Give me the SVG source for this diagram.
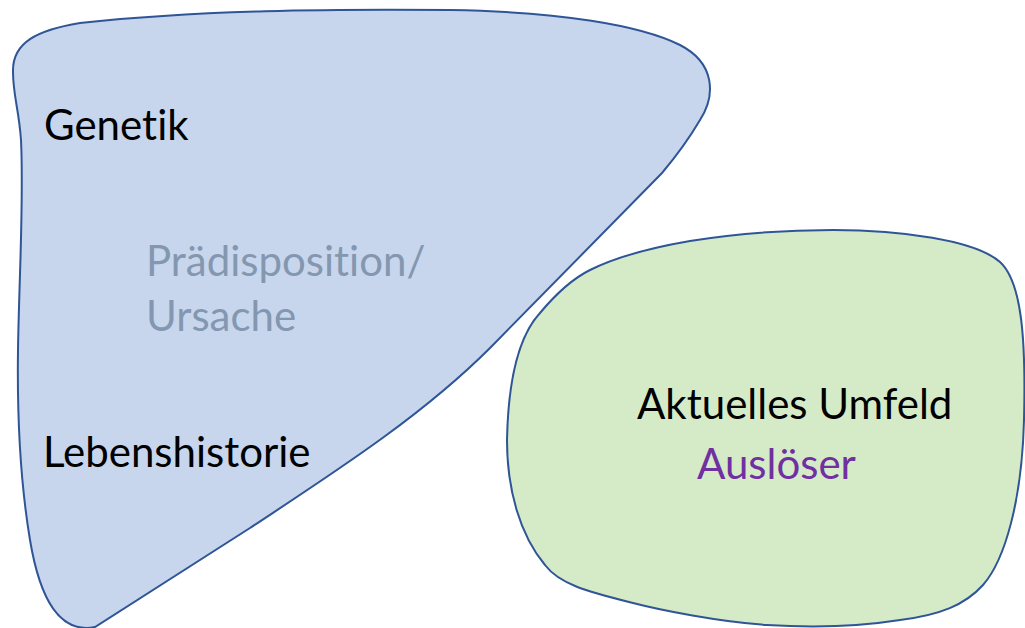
<svg xmlns="http://www.w3.org/2000/svg" width="1025" height="628" viewBox="0 0 1025 628">
<style>
.blob{stroke:#2F5597;stroke-width:2}
.t{font-family:Lato,"Open Sans","Liberation Sans",sans-serif;font-size:42px;font-variant-ligatures:none}
</style>
<rect width="1025" height="628" fill="#ffffff"/>
<g id="praedisposition">
<path class="blob" fill="#C7D6EC" d="M 13,72 C 12,42 38,30 80,23 C 200,10 330,9 450,10 C 560,12 640,25 680,45 C 715,63 716,95 700,120 C 690,137 678,154 662,173 L 490,348 C 420,418 330,475 250,528 C 190,566 130,605 95,627 C 60,634 40,600 30,540 C 20,480 17,420 18,350 C 19,280 24,200 21,140 C 19,110 13,95 13,72 Z"/>
<text class="t" x="44" y="140" fill="#000000">Genetik</text>
<text class="t" x="146" y="276" fill="#8497B0">Prädisposition/</text>
<text class="t" x="146" y="331" fill="#8497B0">Ursache</text>
<text class="t" x="43" y="467" fill="#000000">Lebenshistorie</text>
</g>
<g id="umfeld">
<path class="blob" fill="#D5EBC8" d="M 833,230 C 900,230 975,240 1000,262 C 1022,282 1026,340 1024,420 C 1022,500 1005,560 983,585 C 965,605 940,615 900,620 C 850,628 800,627 767,625 C 720,622 660,610 633,603 C 590,592 560,585 545,565 C 520,535 507,490 507,440 C 508,390 515,340 540,313 C 555,295 570,280 590,270 C 620,255 655,247 690,241 C 740,233 790,230 833,230 Z"/>
<text class="t" x="637" y="419" fill="#000000">Aktuelles Umfeld</text>
<text class="t" x="697" y="479" fill="#7030A0">Auslöser</text>
</g>
<g id="connectors"></g>
</svg>
